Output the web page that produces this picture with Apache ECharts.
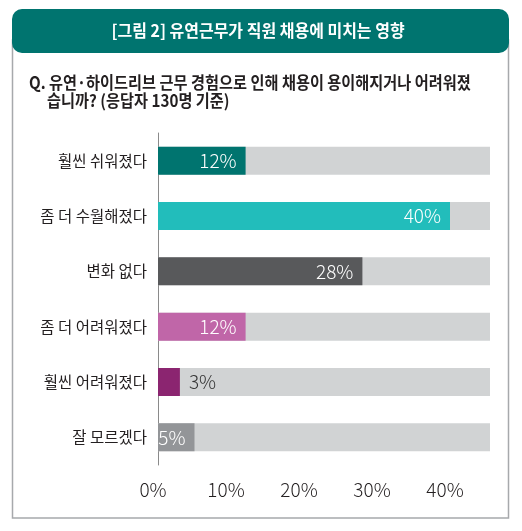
<!DOCTYPE html>
<html>
<head>
<meta charset="utf-8">
<script src="https://cdn.jsdelivr.net/npm/echarts@6/dist/echarts.min.js"></script>
<style>
  html, body { margin: 0; padding: 0; background: #fff; }
  #chart { width: 522px; height: 531px; }
</style>
</head>
<body>
<div id="chart"></div>
<script>
const titleText = '[그림 2] 유연근무가 직원 채용에 미치는 영향';
const questionLines = [
  'Q. 유연·하이드리브 근무 경험으로 인해 채용이 용이해지거나 어려워졌',
  '습니까? (응답자 130명 기준)'
];
const categories = ['훨씬 쉬워졌다', '좀 더 수월해졌다', '변화 없다', '좀 더 어려워졌다', '훨씬 어려워졌다', '잘 모르겠다'];
const values = [12, 40, 28, 12, 3, 5];
const barColors = ['#00746F', '#22BDBB', '#58595B', '#C066A8', '#8B2570', '#939598'];
const tickValues = [0, 10, 20, 30, 40];

const font = '"Noto Sans CJK KR", "Noto Sans", sans-serif';

const chart = echarts.init(document.getElementById('chart'));

const barData = values.map((v, i) => {
  const item = { value: v, itemStyle: { color: barColors[i] } };
  if (v < 4) {
    item.label = { position: 'right', color: '#333', distance: 9 };
  }
  return item;
});

chart.setOption({
  animation: false,
  graphic: [
    {
      type: 'rect', z: 0,
      shape: { x: 12.5, y: 40, width: 496, height: 478 },
      style: { fill: '#fff', stroke: '#A7A9AC', lineWidth: 1.5 }
    },
    {
      type: 'rect', z: 1,
      shape: { x: 12, y: 9, width: 497, height: 44, r: 10 },
      style: { fill: '#00746F' }
    },
    {
      type: 'text', z: 2, x: 258, y: 31, scaleX: 0.94,
      style: { text: titleText, fill: '#fff', font: 'bold 17px ' + font, textAlign: 'center', textVerticalAlign: 'middle' }
    },
    {
      type: 'text', z: 2, x: 29, y: 83, scaleX: 0.895,
      style: { text: questionLines[0], fill: '#231F20', font: 'bold 17px ' + font, textAlign: 'left', textVerticalAlign: 'middle' }
    },
    {
      type: 'text', z: 2, x: 47, y: 101, scaleX: 0.895,
      style: { text: questionLines[1], fill: '#231F20', font: 'bold 17px ' + font, textAlign: 'left', textVerticalAlign: 'middle' }
    }
  ],
  grid: { left: 158, right: 32, top: 133, height: 332 },
  xAxis: {
    type: 'value',
    min: 0,
    max: 332 / 7.3,
    interval: 10,
    splitLine: { show: false },
    axisLine: { show: false },
    axisTick: { show: false },
    axisLabel: {
      showMaxLabel: false,
      margin: 15,
      padding: [0, 10, 0, 0],
      color: '#231F20',
      fontSize: 19,
      fontWeight: 300,
      fontFamily: font,
      formatter: v => tickValues.includes(v) ? v + '%' : ''
    }
  },
  yAxis: {
    type: 'category',
    inverse: true,
    data: categories,
    axisLine: { show: true, lineStyle: { color: '#8A8A8A', width: 1 } },
    axisTick: { show: false },
    axisLabel: { margin: 11, color: '#231F20', fontSize: 15.5, fontFamily: font }
  },
  series: [{
    type: 'bar',
    data: barData,
    barWidth: 28,
    showBackground: true,
    backgroundStyle: { color: '#D1D3D4' },
    label: {
      show: true,
      position: 'insideRight',
      distance: 9,
      color: '#fff',
      fontSize: 19,
      fontWeight: 300,
      fontFamily: font,
      formatter: '{c}%'
    }
  }]
});
</script>
</body>
</html>
